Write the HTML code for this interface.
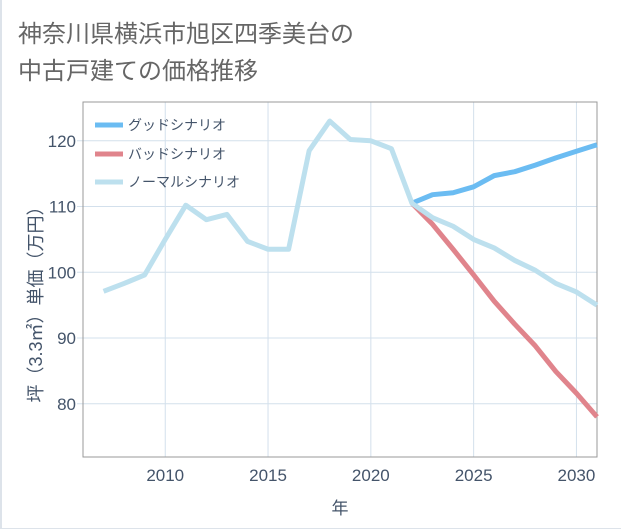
<!DOCTYPE html>
<html><head><meta charset="utf-8"><style>
body{margin:0;background:#fff;}
#card{position:absolute;left:0;top:0;width:619px;height:528px;border:1px solid #dde3ea;border-top:none;border-left:2px solid #dde3ea;background:#fff;}
svg{position:absolute;left:0;top:0;font-family:"Liberation Sans","Noto Sans CJK JP",sans-serif;}
</style></head><body>
<div id="card"></div>
<svg width="621" height="530" id="chart">
<text x="18" y="42" font-size="24" fill="#666">神奈川県横浜市旭区四季美台の</text>
<text x="18" y="79" font-size="24" fill="#666">中古戸建ての価格推移</text>
<g id="grid"></g>
<rect x="83" y="102" width="514" height="355" fill="none" stroke="#999" stroke-width="1"/>
<g id="series"></g>
<g id="ticks"></g>
<text x="340" y="514" font-size="17" fill="#44546a" text-anchor="middle">年</text>
<text transform="translate(42,300) rotate(-90)" font-size="18" fill="#44546a" text-anchor="middle">坪（3.3㎡）単価（万円）</text>
<g>
<line x1="95" y1="125" x2="123" y2="125" stroke="#6bbcf2" stroke-width="5"/>
<text x="128" y="130" font-size="14" fill="#44546a">グッドシナリオ</text>
<line x1="95" y1="154" x2="123" y2="154" stroke="#e0848c" stroke-width="5"/>
<text x="128" y="159" font-size="14" fill="#44546a">バッドシナリオ</text>
<line x1="95" y1="182" x2="123" y2="182" stroke="#bde0ee" stroke-width="5"/>
<text x="128" y="187" font-size="14" fill="#44546a">ノーマルシナリオ</text>
</g>
</svg>
<script>
const normalYears=[2007,2008,2009,2010,2011,2012,2013,2014,2015,2016,2017,2018,2019,2020,2021,2022,2023,2024,2025,2026,2027,2028,2029,2030,2031];
const normalValues=[97.1,98.3,99.6,105,110.2,108,108.8,104.7,103.5,103.5,118.5,123,120.2,120,118.8,110.5,108.3,107,105,103.7,101.8,100.3,98.3,97,95];
const forecastYears=[2022,2023,2024,2025,2026,2027,2028,2029,2030,2031];
const goodValues=[110.5,111.8,112.1,113,114.7,115.3,116.3,117.4,118.4,119.4];
const badValues=[110.5,107.3,103.5,99.6,95.6,92.1,88.8,84.9,81.6,78];
const xTicks=[2010,2015,2020,2025,2030];
const yTicks=[80,90,100,110,120];
const NS='http://www.w3.org/2000/svg';
function xs(v){return 83+(v-2006)*(514/25);}
function ys(v){return 457-(v-71.9)*(355/54);}
const grid=document.getElementById('grid'),ticks=document.getElementById('ticks'),ser=document.getElementById('series');
function mk(tag,attrs,parent){const e=document.createElementNS(NS,tag);for(const k in attrs)e.setAttribute(k,attrs[k]);parent.appendChild(e);return e;}
xTicks.forEach(t=>{
 const l=mk('line',{x1:xs(t),x2:xs(t),y1:102,y2:457,stroke:'#d3e0ec','stroke-width':1},grid);
 
 
 const tx=mk('text',{x:xs(t),y:481,'font-size':17,fill:'#44546a','text-anchor':'middle'},ticks);
 tx.textContent=t;
 
 
});
yTicks.forEach(t=>{
 const l=mk('line',{x1:77,x2:597,y1:ys(t),y2:ys(t),stroke:'#d3e0ec','stroke-width':1},grid);
 
 
 const tx=mk('text',{x:76,y:ys(t)+6,'font-size':17,fill:'#44546a','text-anchor':'end'},ticks);
 tx.textContent=t;
 
 
});
function line(xv,yv,color,name){
 const p=mk('polyline',{points:xv.map((x,i)=>xs(x)+','+ys(yv[i])).join(' '),fill:'none',stroke:color,'stroke-width':5,'stroke-linejoin':'round'},ser);
 
 
}
line(forecastYears,badValues,'#e0848c','bad-scenario-line');
line(forecastYears,goodValues,'#6bbcf2','good-scenario-line');
line(normalYears,normalValues,'#bde0ee','normal-scenario-line');
</script>
</body></html>
